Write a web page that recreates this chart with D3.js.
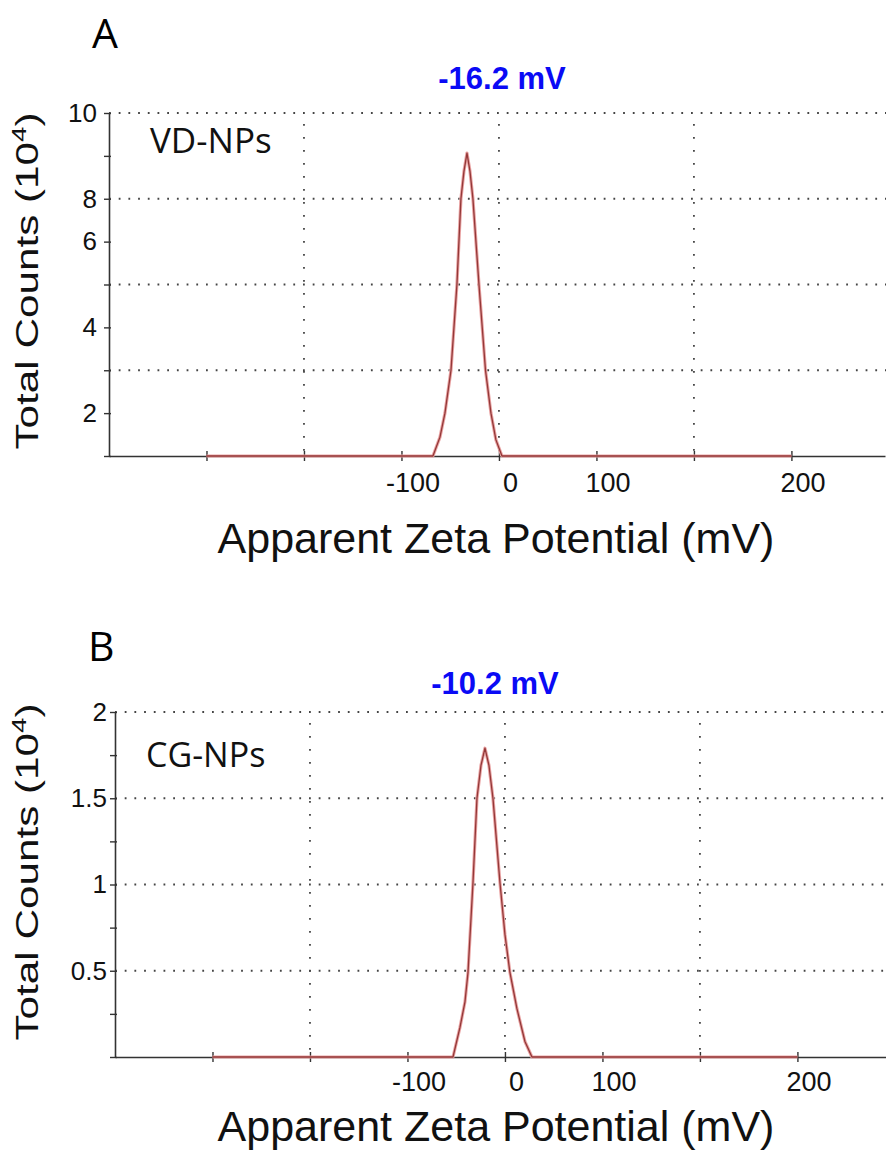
<!DOCTYPE html>
<html>
<head>
<meta charset="utf-8">
<script src="https://cdn.jsdelivr.net/npm/d3@7"></script>
<style>
  html, body { margin: 0; padding: 0; background: #fff; }
  svg { display: block; }
</style>
</head>
<body>
<svg id="chart" width="886" height="1153"></svg>
<script>
// ---------- data ----------
const xTickValues = [-300, -200, -100, 0, 100, 200, 300];
const xTickLabels = ["", "", "-100", "0", "100", "", "200"];
const xGridValues = [-200, 0, 200];

const yTickValuesA = [0, 1.25, 2.5, 3.75, 5, 6.25, 7.5, 8.75, 10];
const yTickLabelsA = ["", "2", "", "4", "", "6", "8", "", "10"];
const yGridValuesA = [2.5, 5, 7.5, 10];

const yTickValuesB = [0, 0.25, 0.5, 0.75, 1, 1.25, 1.5, 1.75, 2];
const yTickLabelsB = ["", "", "0.5", "", "1", "", "1.5", "", "2"];
const yGridValuesB = [0.5, 1, 1.5, 2];

const zetaA   = [-300, -67.7, -60.5, -55.4, -49.2, -43.1, -39.0, -35.9, -32.8, -29.7, -26.7, -20.5, -13.8, -8.2, -3.1, 3.1, 300];
const countsA = [0, 0, 0.55, 1.25, 2.5, 5.0, 7.5, 8.3, 8.83, 8.3, 7.5, 5.0, 2.5, 1.25, 0.47, 0, 0];

const zetaB   = [-300, -53.3, -46.2, -41.0, -37.9, -32.8, -28.7, -24.6, -20.5, -16.4, -12.3, -5.1, 0, 5.1, 12.3, 20.5, 27.7, 300];
const countsB = [0, 0, 0.17, 0.32, 0.49, 1.01, 1.50, 1.69, 1.79, 1.69, 1.50, 1.01, 0.71, 0.49, 0.28, 0.09, 0, 0];

const panelLetters = ["A", "B"];
const sampleNames = ["VD-NPs", "CG-NPs"];
const peakLabels = ["-16.2 mV", "-10.2 mV"];
const xTitle = "Apparent Zeta Potential (mV)";
const yTitle = "Total Counts (10";

// ---------- drawing ----------
const svg = d3.select("#chart");

function drawPanel(cfg) {
  const x = d3.scaleLinear().domain([-400, 396]).range([cfg.left, cfg.left + 776]);
  const y = d3.scaleLinear().domain(cfg.yDomain).range([cfg.bottom, cfg.top]);
  const g = svg.append("g");

  // grid (dotted)
  g.append("g").selectAll("line").data(cfg.yGrid).join("line")
    .attr("x1", x(-400)).attr("x2", 886)
    .attr("y1", d => y(d)).attr("y2", d => y(d))
    .attr("stroke", "#444").attr("stroke-width", 1.8)
    .attr("stroke-dasharray", "1.8,7.9");
  g.append("g").selectAll("line").data(xGridValues).join("line")
    .attr("x1", d => x(d)).attr("x2", d => x(d))
    .attr("y1", y(cfg.yDomain[1]) + 11).attr("y2", cfg.bottom)
    .attr("stroke", "#444").attr("stroke-width", 1.8)
    .attr("stroke-dasharray", "1.8,11.2");

  // y axis
  const yAxis = g.append("g")
    .attr("transform", `translate(${x(-400)},0)`)
    .call(d3.axisLeft(y).tickValues(cfg.yTicks)
      .tickFormat((d, i) => cfg.yLabels[i])
      .tickSizeInner(5).tickSizeOuter(0).tickPadding(cfg.yPad));
  yAxis.select(".domain").attr("stroke", "#333").attr("stroke-width", 1.6);
  yAxis.selectAll(".tick line").attr("x1", 2).attr("stroke", "#333").attr("stroke-width", 1.4);
  yAxis.selectAll(".tick text")
    .attr("font-family", "'Liberation Sans', Arial, sans-serif")
    .attr("font-size", 26).attr("fill", "#111");

  // x axis
  const xAxis = g.append("g")
    .attr("transform", `translate(0,${cfg.bottom})`)
    .call(d3.axisBottom(x).tickValues(xTickValues)
      .tickFormat((d, i) => xTickLabels[i])
      .tickSizeInner(5).tickSizeOuter(0));
  xAxis.select(".domain").attr("stroke", "#333").attr("stroke-width", 1.6);
  xAxis.selectAll(".tick line").attr("y1", -5).attr("stroke", "#333").attr("stroke-width", 1.4);
  xAxis.selectAll(".tick text")
    .attr("font-family", "'Liberation Sans', Arial, sans-serif")
    .attr("font-size", 27).attr("fill", "#111")
    .attr("y", cfg.xLabelY).attr("dy", 0).attr("dx", 11);

  // data line
  const line = d3.line().x(d => x(d[0])).y(d => y(d[1]));
  const pts = cfg.xs.map((v, i) => [v, cfg.ys[i]]);
  g.append("path").datum(pts).attr("d", line)
    .attr("fill", "none").attr("stroke", "#e9a3a3").attr("stroke-width", 3.2)
    .attr("stroke-linejoin", "round");
  g.append("path").datum(pts).attr("d", line)
    .attr("fill", "none").attr("stroke", "#933838").attr("stroke-width", 1.3)
    .attr("stroke-linejoin", "round");

  // panel letter
  g.append("text").attr("x", cfg.letterX).attr("y", cfg.letterY)
    .attr("font-family", "'Open Sans', sans-serif").attr("font-size", 41)
    .attr("fill", "#000").text(cfg.letter);

  // peak value label
  g.append("text").attr("x", cfg.peakX).attr("y", cfg.peakY)
    .attr("text-anchor", "middle")
    .attr("font-family", "'Liberation Sans', Arial, sans-serif")
    .attr("font-weight", "bold").attr("font-size", 31)
    .attr("fill", "#0a0af5").text(cfg.peak);

  // sample name
  g.append("text").attr("x", cfg.nameX).attr("y", cfg.nameY)
    .attr("font-family", "'Open Sans', sans-serif").attr("font-size", cfg.nameSize)
    .attr("fill", "#111").text(cfg.name);

  // x title
  g.append("text").attr("x", 496).attr("y", cfg.xTitleY)
    .attr("text-anchor", "middle")
    .attr("font-family", "'Liberation Sans', Arial, sans-serif")
    .attr("font-size", 43).attr("fill", "#111").text(xTitle);

  // y title (rotated, stretched along its length)
  const yt = g.append("text")
    .attr("transform", `translate(38,${cfg.yTitleY}) rotate(-90) scale(1.32,1)`)
    .attr("text-anchor", "middle")
    .attr("font-family", "'Liberation Sans', Arial, sans-serif")
    .attr("font-size", 32).attr("fill", "#111");
  yt.append("tspan").text(yTitle);
  yt.append("tspan").attr("font-size", 21).attr("dy", -12).text("4");
  yt.append("tspan").attr("dy", 12).text(")");
}

drawPanel({
  left: 109, top: 113, bottom: 456, yDomain: [0, 10],
  yTicks: yTickValuesA, yLabels: yTickLabelsA, yGrid: yGridValuesA, yPad: 7,
  xLabelY: 36, xs: zetaA, ys: countsA,
  letter: panelLetters[0], letterX: 92, letterY: 48,
  peak: peakLabels[0], peakX: 502, peakY: 89,
  name: sampleNames[0], nameX: 150, nameY: 153, nameSize: 35,
  xTitleY: 553, yTitleY: 281
});

drawPanel({
  left: 115, top: 712, bottom: 1057, yDomain: [0, 2],
  yTicks: yTickValuesB, yLabels: yTickLabelsB, yGrid: yGridValuesB, yPad: 3,
  xLabelY: 34, xs: zetaB, ys: countsB,
  letter: panelLetters[1], letterX: 88, letterY: 661,
  peak: peakLabels[1], peakX: 495, peakY: 694,
  name: sampleNames[1], nameX: 146, nameY: 767, nameSize: 34,
  xTitleY: 1141, yTitleY: 872
});
</script>
</body>
</html>
